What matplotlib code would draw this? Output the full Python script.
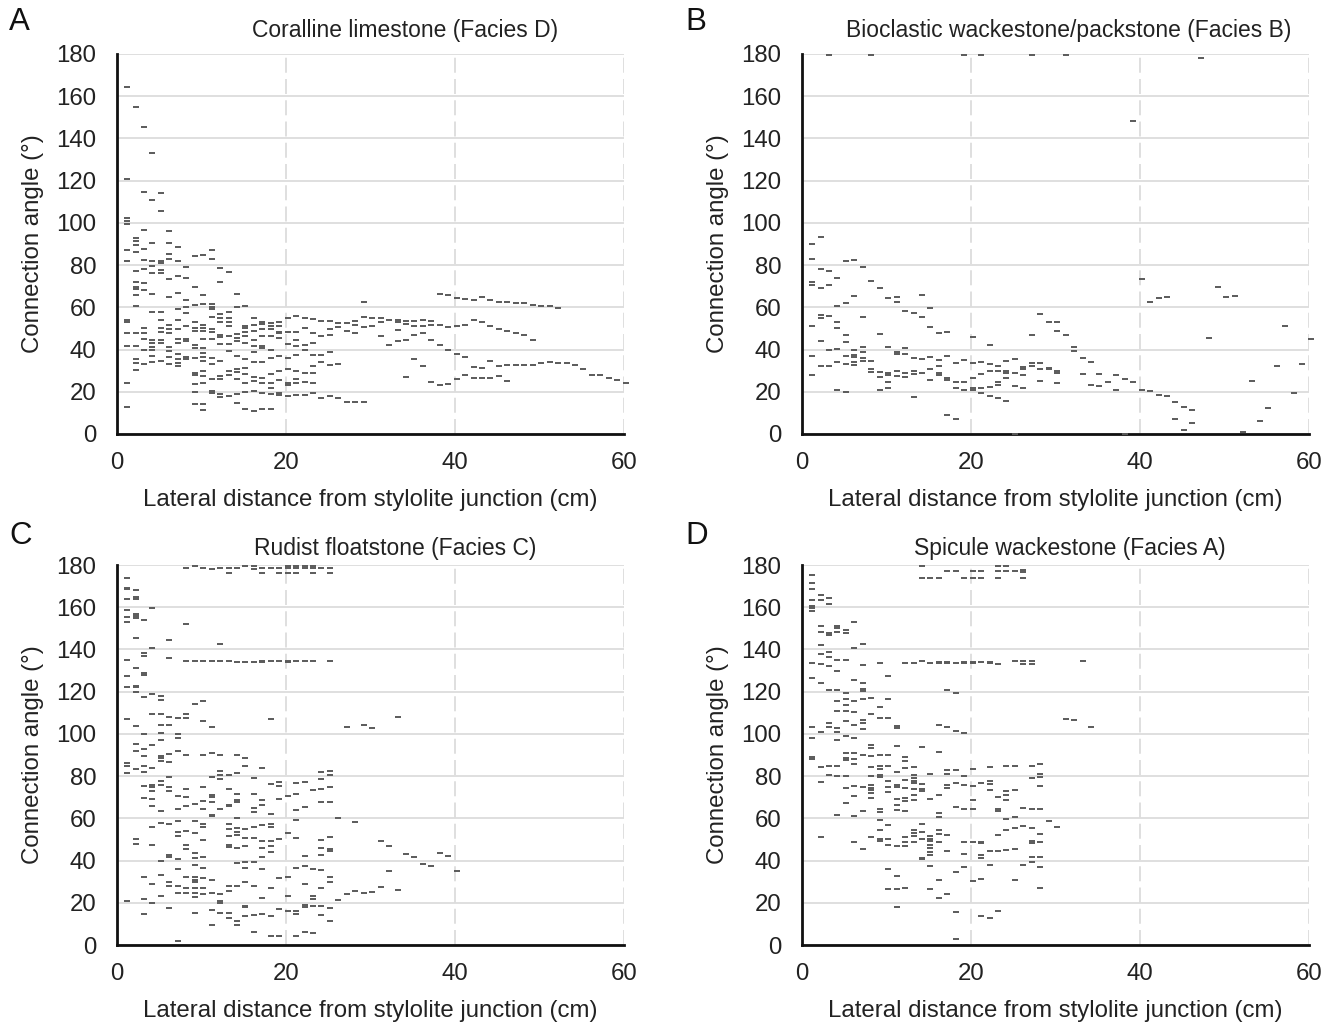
import numpy as np
import matplotlib
matplotlib.use('Agg')
import matplotlib.pyplot as plt

plt.rcParams['font.family'] = ['Liberation Sans', 'DejaVu Sans']

# angles per 1 cm distance column, first list is 1 cm, second is 2 cm ...
coralline_angles = [
    [164.3, 120.9, 102.5, 101, 99.4, 87, 82, 54, 53, 48, 41.7, 24.2, 12.6],
    [155, 93, 91.5, 89.6, 86, 77, 72, 69.5, 68.5, 66, 60.7, 48, 41.7, 35.4, 33.8, 30.5],
    [145.5, 114.5, 96.5, 87.7, 82.6, 78, 71.4, 68, 50.4, 48, 45, 40, 33.3],
    [133, 111, 90.7, 82, 79.5, 76.5, 66.3, 58, 44.5, 43, 41.4, 39.8, 37, 34.3],
    [114, 105.7, 82, 81, 77.5, 76.5, 57.7, 54, 50, 48.5, 44.5, 43, 34.6],
    [96, 90.4, 85.5, 83, 73.6, 64.8, 51.7, 49.6, 47.7, 41.4, 39.5, 36.5, 33.2],
    [88.6, 82, 75, 67, 59, 54, 49.6, 45, 43.3, 38, 35.4, 33.8, 32],
    [79.3, 73.8, 63.3, 60, 57.5, 51, 45, 44, 36.5, 35.5],
    [84.5, 69.7, 61, 53, 50, 48.7, 42, 40.6, 36, 29, 28, 23.9, 19.7, 14],
    [84.8, 66, 61.5, 51.7, 50, 49, 45, 40.6, 38.5, 36.6, 34.6, 30, 27.5, 24, 14, 11.4],
    [87, 83, 61.5, 60, 59, 55.6, 49.6, 48.5, 45, 36, 33, 26, 20.5, 19.3],
    [78.4, 72, 57, 55, 53, 47, 46, 42.5, 34.6, 27.5, 26, 19, 17.4],
    [76.6, 58, 55, 53, 51, 46.4, 42.5, 39.5, 30, 28, 18],
    [66.5, 60, 47.4, 45.6, 44, 37, 30.6, 29.5, 26, 18.8, 14.5],
    [60.5, 51, 50, 48.5, 46.6, 43, 35.4, 31.4, 28.3, 24.3, 20, 12],
    [55, 51.7, 48.8, 44.4, 41.9, 38.7, 34, 26.8, 25, 20.4, 11],
    [53, 52, 49.6, 46.4, 41.7, 40.6, 34, 26.5, 24.3, 19.3, 12],
    [52.5, 51, 49.8, 46.4, 39.8, 36, 28.4, 24.3, 21.6, 19, 12],
    [53, 51, 48.5, 47.7, 45.5, 37, 30, 25.8, 19.3, 18.5],
    [55, 48.5, 42.5, 36, 30.8, 24, 23, 18],
    [56, 48.3, 44.5, 41.7, 37.4, 30, 26, 24, 18.6],
    [55, 50.4, 42, 39.8, 29, 24.6, 18.6],
    [54.5, 47.7, 43, 37.4, 32.4, 29, 24.3, 19.3],
    [53.5, 46.6, 37.4, 34, 17],
    [53.5, 49.6, 47, 39, 32.7, 18],
    [52.5, 50.5, 33, 17],
    [52.5, 49, 15],
    [53.7, 51.7, 48, 15],
    [62.7, 55.6, 50.7, 15.3],
    [55, 51.3],
    [55, 53, 46.3],
    [54, 42.3],
    [54, 53, 49.4, 44],
    [53.6, 52, 44.7, 26.9],
    [53.6, 51, 47, 35.7],
    [54.2, 51, 48, 32],
    [53.6, 51.7, 44.7, 24.8],
    [66.5, 51.7, 42, 23.2],
    [66, 50.7, 39.7, 23.5],
    [64.5, 51, 38, 26],
    [64, 51.7, 36.5, 27.8],
    [63.5, 54, 31.6, 26.7],
    [65, 53, 31.3, 26.7],
    [63.7, 51, 34.4, 26.7],
    [62.4, 49.6, 32, 27.5],
    [62.4, 49, 32.7, 25],
    [62, 48, 32.5],
    [62, 46.8, 32.5],
    [61, 44.5, 32.9],
    [60.8, 33.8],
    [60.8, 34.3],
    [59.7, 33.5],
    [33.8],
    [32.9],
    [31],
    [28],
    [28],
    [26.7],
    [25.4],
    [24],
]

bioclastic_angles = [
    [90, 83, 72, 70.5, 51, 37, 28],
    [93.5, 78, 69, 56.3, 55, 44, 32],
    [179.3, 77, 70.4, 56, 39.7, 32],
    [74, 60.4, 53, 50.3, 40.3, 34.3, 20.9],
    [82, 61.9, 47, 43.5, 36.9, 33, 19.8],
    [82.6, 65.5, 40, 37.5, 36.4, 34, 32.6],
    [79, 55.5, 41, 39, 36, 34.8],
    [179.3, 72.6, 34.5, 31, 29.4],
    [69.3, 47.5, 29.4, 26.9, 21],
    [64.6, 41, 29, 28, 24.5, 21.8],
    [64.7, 62.5, 39, 38, 30, 27.7],
    [58.4, 40.8, 37.7, 29, 27],
    [57.3, 35.8, 30, 28.5, 17.6],
    [66, 55.5, 35.3, 28.8],
    [59.8, 50.8, 36.6, 31, 25.8],
    [48, 35, 32.3, 28.8, 27.8],
    [48.4, 37, 26.6, 25.5, 9],
    [33.5, 24.8, 21.8, 7],
    [179.3, 35, 24.8, 20.9],
    [46, 33.4, 26.7, 22, 21],
    [179.3, 34, 28.5, 21.7, 19.5],
    [42, 33, 29.7, 22.3, 17.9],
    [32, 29.7, 24.4, 23.4, 17],
    [34.7, 30, 29, 26.4, 15.8],
    [35.4, 29, 22.6, 0],
    [31.6, 30.7, 28, 21.7],
    [179.3, 47, 33.4, 32],
    [56.8, 33.4, 30.9, 25],
    [53, 31.3, 30.7],
    [53, 49, 29.7, 28.8, 24.2],
    [179.3, 47],
    [41, 39.2],
    [36.2, 28.6],
    [33.9, 23.1],
    [28.2, 22.9],
    [24.5],
    [28, 21],
    [26, 0],
    [148.4, 24.4],
    [73.4, 20.9],
    [62.5, 20.4],
    [64.6, 18.4],
    [64.7, 17.9],
    [15, 7],
    [12.7, 1.9],
    [11.4, 5.2],
    [178.3],
    [45.3],
    [69.8],
    [64.9],
    [65.5],
    [0.8],
    [25.2],
    [6.2],
    [12.5],
    [32],
    [51.3],
    [19.5],
    [33],
    [45.1],
]

rudist_angles = [
    [173.7, 169.3, 168.4, 164, 158.9, 155.4, 152.8, 135, 127.5, 122, 107, 86, 85, 81.6, 21],
    [168, 165, 164, 157, 156, 155, 145.6, 131, 122.8, 122, 120, 103.6, 95, 92, 83.5, 50, 48],
    [154, 138.4, 136.7, 128.8, 128, 117.7, 99.8, 93, 89.7, 84.8, 82, 75.5, 69.8, 32, 22, 14.6],
    [159.5, 140.7, 118.7, 109.3, 94.8, 83.9, 76, 74.7, 73, 69, 66, 55.7, 47.5, 29, 20],
    [118, 116, 109.5, 104, 100.3, 97, 89.7, 88.5, 87, 77.8, 75.8, 63.6, 58, 40, 33, 23],
    [144.6, 135.8, 108, 104, 90.7, 86.6, 79.4, 75, 73, 57.4, 42.4, 41.5, 29.7, 28, 17.7],
    [107.6, 99.8, 98, 91.8, 70.6, 64.4, 58.9, 53.5, 51.6, 40.8, 35.8, 27.8, 24.7, 2],
    [178.5, 152, 134.5, 109.5, 107.6, 89.9, 73.9, 70, 65.7, 53.8, 47.6, 45.6, 32.3, 26.9, 24.7],
    [179.4, 134.5, 114, 67, 58.9, 53, 43.5, 41, 37.7, 32, 31, 29.7, 27, 24.7, 22.6, 15.2],
    [178.8, 134.5, 115.5, 106.3, 89.9, 74.8, 68.4, 64.2, 57.3, 55.9, 49.8, 41.6, 36.7, 31.6, 27, 24.2],
    [178.3, 134.5, 103.5, 91, 79.6, 71, 70, 67.6, 61.8, 61, 31, 24.5, 16.8, 9.3],
    [178.5, 142.6, 134.3, 89.9, 82.6, 80.5, 78.8, 64.2, 24.2, 21, 20, 15.2],
    [178.5, 176, 134.3, 80.7, 73.9, 66.5, 65.7, 57.4, 55, 51.7, 47.5, 46.4, 27.8, 25.8, 15, 12.8],
    [178.5, 134.2, 89.9, 81.6, 71.5, 68.5, 67.6, 60.3, 55.4, 53.5, 52, 45.9, 39, 28, 11.6, 9.7],
    [179.3, 134, 88.4, 84.8, 55, 50.5, 46.7, 39.2, 36.4, 30, 18.7, 18, 13.8],
    [179.3, 178.3, 134, 79.3, 71.7, 64.9, 63, 55.9, 50.5, 39.4, 28, 14.2, 6.3],
    [178.5, 176, 134.4, 134.2, 84, 68.8, 66.5, 57, 49.5, 45.9, 41.6, 36, 22.3, 14.7],
    [178.5, 134.3, 107, 76.3, 61.9, 57.3, 55.7, 49.5, 46.7, 44, 27.2, 13.8, 4.4],
    [178.5, 176, 134.3, 77.2, 75.3, 69, 50, 31.8, 17, 4.3],
    [179.6, 178.5, 176, 134.5, 134, 70.4, 53, 32.3, 23.3, 16],
    [179.6, 178.5, 176, 134.3, 76.6, 71.4, 63.8, 59, 50.8, 36.4, 16.3, 14.7, 4.3],
    [179.6, 178.5, 134.3, 77.4, 65.3, 42, 37.3, 28.8, 19, 18, 6.3],
    [179.6, 178.5, 176, 134.3, 73.3, 36, 23.4, 21.7, 18.7, 5.5],
    [178.5, 82, 78.6, 73.7, 67.9, 49.8, 45.9, 42.7, 35.4, 26.9, 18.4, 14],
    [178.5, 176, 134.3, 82.3, 80.5, 74.7, 67.6, 51, 45.6, 44.3, 32, 29.9, 17.4, 11.2],
    [60.2, 21.2],
    [103.2, 24.3],
    [58.3, 25.6],
    [104, 24.5],
    [102.8, 25],
    [49.4, 27.5],
    [47, 35],
    [108.2, 26.2],
    [43.3],
    [41.7],
    [38.2],
    [37.6],
    [43.6],
    [42.2],
    [35],
]

spicule_angles = [
    [175.3, 171.5, 168.5, 163.3, 160.6, 159.5, 158.4, 133.4, 126.7, 103.2, 98, 89.2, 88.3],
    [165.8, 163.3, 151.3, 148.4, 142.2, 137.7, 133.2, 124, 101, 84.5, 77.2, 51],
    [164.2, 161.7, 147.8, 146.8, 139, 136.6, 132, 121, 105, 103.5, 85, 80.4],
    [151.3, 150.3, 148.4, 135, 129.6, 121, 115.7, 110.8, 103, 100.8, 97, 85, 80, 61.4],
    [149.2, 148, 134.8, 119.5, 116.6, 113.6, 110.8, 106, 99, 90.8, 88.6, 87.8, 80, 74.2, 67.2],
    [153, 140.7, 125.3, 115.8, 110.4, 104, 98, 90.8, 88, 85.9, 75.5, 70.6, 61.2, 49],
    [142.6, 132.8, 124.2, 121.5, 120.3, 116.6, 106.5, 105.2, 102.2, 89.9, 74.8, 63.6, 45.6],
    [116.8, 109.6, 94.6, 93.4, 89.7, 84.3, 80.2, 75.6, 74.4, 73.3, 72.2, 69.8, 51],
    [133.4, 112.7, 107.6, 89.9, 85, 83.5, 80.4, 79.6, 64.2, 62.8, 59, 54.6, 50, 49.4],
    [127.5, 116.6, 107.3, 89.9, 85, 77.5, 74.8, 72.6, 57, 50, 47.3, 36, 26.3],
    [103.8, 102.7, 94.3, 82, 76, 74.7, 69, 66.1, 63.9, 46.7, 32.8, 26.3, 18.2],
    [133.4, 89.2, 87, 83.9, 78.3, 74.5, 69.6, 68, 63.4, 51, 48.7, 46.8, 27],
    [133.4, 84.5, 80.4, 79, 77.8, 76.6, 74, 71.2, 68.8, 54.3, 53, 51.6, 48.7],
    [179.3, 174, 134.3, 94, 76.4, 74, 72.8, 57.4, 53.6, 50.2, 41.3, 40.7],
    [174, 133.7, 81, 69.3, 51.6, 50.3, 49.2, 47.2, 45.9, 44, 42.4, 37.5, 26.4],
    [174, 133.9, 133.5, 104.3, 91.3, 70.9, 62.7, 60.6, 54.3, 52.5, 49, 30.7, 22.5],
    [177.2, 133.9, 133.5, 120.7, 103.5, 82.8, 80.9, 76, 74.2, 51.9, 44.5, 24],
    [177.2, 133.4, 119.3, 101.4, 82.8, 76.6, 65.3, 34.5, 15.8, 2.7],
    [174, 133.9, 133.5, 100.5, 80, 76, 64.6, 48.9, 43, 37],
    [177.2, 174, 133.9, 133.5, 83.5, 75.2, 68.8, 64.2, 49, 30.5],
    [177.2, 174, 134, 76.6, 49, 48.4, 42.7, 41, 31.3, 13.9],
    [134, 133.4, 84.3, 77.8, 76.4, 73.4, 44.5, 37.7, 12.7],
    [179.3, 177.2, 174, 133.2, 70, 64.2, 63.4, 52, 44.5, 16],
    [179.3, 177.2, 84.7, 72.8, 71.2, 68.8, 59.7, 54.4, 45],
    [177.2, 134.5, 84.7, 73.4, 60.6, 55.5, 45.4, 30.9],
    [177.7, 176.7, 174, 134.5, 133.2, 64.7, 56.6, 38],
    [134.5, 133.2, 85, 79.3, 64.2, 55.5, 49.5, 48.4, 41.8, 39.2],
    [85.6, 80.9, 79.7, 75.5, 64.2, 52.8, 48.7, 41.8, 37, 27],
    [58.7],
    [55.9],
    [107.1],
    [106.8],
    [134.6],
    [103.2],
]

panel_letters = ['A', 'B', 'C', 'D']
panel_titles = ['Coralline limestone (Facies D)', 'Bioclastic wackestone/packstone (Facies B)',
                'Rudist floatstone (Facies C)', 'Spicule wackestone (Facies A)']
panel_data = [coralline_angles, bioclastic_angles, rudist_angles, spicule_angles]

W, H = 1338.0, 1027.0
lefts = [117, 802, 117, 802]
tops = [54, 54, 565, 565]
ax_w, ax_h = 507, 380
title_x = [405, 1069, 395, 1070]
title_y = [30, 30, 548, 548]
letter_x = [9, 685, 9, 685]
letter_y = [22, 22, 536, 536]
x_shift = 0.2  # the marks sit a little right of the gridlines in the original

fig = plt.figure(figsize=(W/100, H/100), dpi=100)

for i in range(4):
    ax = fig.add_axes([lefts[i]/W, 1-(tops[i]+ax_h)/H, ax_w/W, ax_h/H])
    xs, ys = [], []
    for j, col in enumerate(panel_data[i]):
        xs += [j + 1 + x_shift] * len(col)
        ys += col
    ax.plot(xs, ys, linestyle='none', marker='_', markersize=4.6, markeredgewidth=1.4,
            color='#5a5a5a', clip_on=False, zorder=3)
    ax.set_xlim(0, 60)
    ax.set_ylim(0, 180)
    ax.set_xticks(np.arange(0, 61, 20))
    ax.set_yticks(np.arange(0, 181, 20))
    ax.grid(axis='y', color='#d9d9d9', linewidth=1.2)
    ax.grid(axis='x', color='#d9d9d9', linewidth=1.2, linestyle=(0, (9, 3.75)))
    ax.set_axisbelow(True)
    ax.spines['top'].set_visible(False)
    ax.spines['right'].set_visible(False)
    ax.spines['left'].set_linewidth(2)
    ax.spines['bottom'].set_linewidth(2)
    ax.spines['left'].set_color('#111111')
    ax.spines['bottom'].set_color('#111111')
    ax.tick_params(length=0, labelsize=17.3, colors='#222222')
    ax.tick_params(axis='y', pad=15)
    ax.tick_params(axis='x', pad=13)
    ax.set_xlabel('Lateral distance from stylolite junction (cm)', fontsize=17.3, color='#222222', labelpad=11)
    ax.set_ylabel('Connection angle (°)', fontsize=17.3, color='#222222', labelpad=9)
    fig.text(title_x[i]/W, 1-title_y[i]/H, panel_titles[i], fontsize=16.5, color='#222222',
             ha='center', va='center')
    fig.text(letter_x[i]/W, 1-letter_y[i]/H, panel_letters[i], fontsize=22.5, color='#111111',
             ha='left', va='center')

fig.savefig('out.png', dpi=100)
